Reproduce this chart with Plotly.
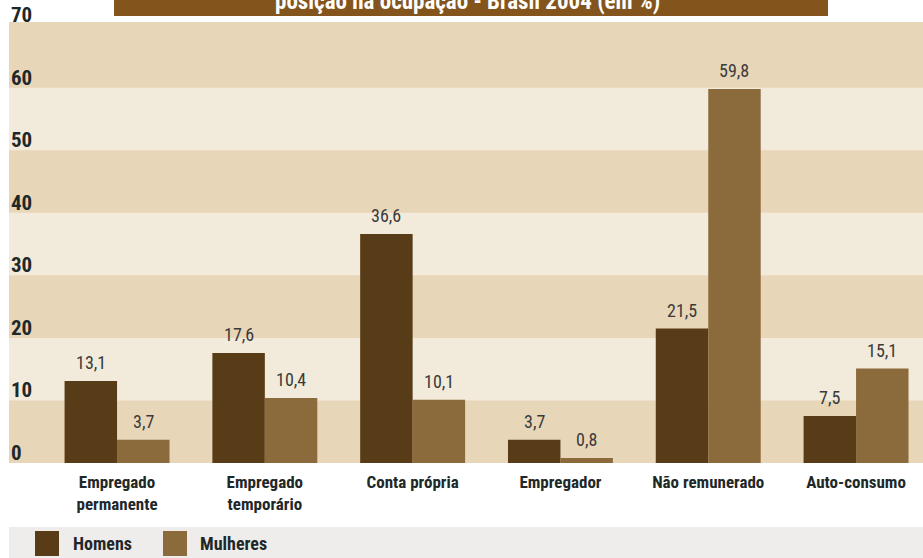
import plotly.graph_objects as go

# Occupied population by sex and position in occupation - Brasil 2004 (%)
categorias = ["Empregado<br>permanente", "Empregado<br>temporário", "Conta própria",
              "Empregador", "Não remunerado", "Auto-consumo"]
homens = [13.1, 17.6, 36.6, 3.7, 21.5, 7.5]
mulheres = [3.7, 10.4, 10.1, 0.8, 59.8, 15.1]
y_ticks = [0, 10, 20, 30, 40, 50, 60, 70]
titulo = "posição na ocupação - Brasil 2004 (em %)"

COR_HOMENS = "#573c17"
COR_MULHERES = "#8b6a3c"
BANDA_ESCURA = "#e8d6b9"
BANDA_CLARA = "#f2eadb"
TEXTO = "#1f2828"
FONTE = ("Roboto Condensed, Noto Sans ExtraCondensed, Noto Sans Condensed, "
         "Liberation Sans Narrow, DejaVu Sans Condensed, sans-serif")

W, H = 923, 558
ML, MR, MT, MB = 9, 0, 22, 95
PW, PH = W - ML - MR, H - MT - MB

def px_x(p):
    return (p - ML) / PW

def px_y(p):
    return (H - MB - p) / PH

BAR_GAP = 0.29
bar_w = (1 - BAR_GAP) / 2
xs = list(range(len(categorias)))

fig = go.Figure()
fig.add_trace(go.Bar(x=xs, y=homens, name="Homens", marker_color=COR_HOMENS,
                     marker_line_width=0))
fig.add_trace(go.Bar(x=xs, y=mulheres, name="Mulheres", marker_color=COR_MULHERES,
                     marker_line_width=0))

shapes = []
# alternating horizontal bands
for lo in range(10, 70, 20):
    shapes.append(dict(type="rect", xref="paper", yref="y", x0=0, x1=1, y0=lo, y1=lo + 10,
                       fillcolor=BANDA_CLARA, line_width=0, layer="below"))

# title bar
shapes.append(dict(type="rect", xref="paper", yref="paper",
                   x0=px_x(114), x1=px_x(828), y0=px_y(16), y1=px_y(-20),
                   fillcolor="#83551d", line_width=0))

# legend strip
shapes.append(dict(type="rect", xref="paper", yref="paper",
                   x0=0, x1=1, y0=px_y(558), y1=px_y(527),
                   fillcolor="#eeedeb", line_width=0))
for x0, cor in [(35, COR_HOMENS), (163, COR_MULHERES)]:
    shapes.append(dict(type="rect", xref="paper", yref="paper",
                       x0=px_x(x0), x1=px_x(x0 + 24), y0=px_y(556), y1=px_y(531),
                       fillcolor=cor, line_width=0))

annotations = []
# y-axis labels sitting on the band boundaries
for v in y_ticks:
    annotations.append(dict(xref="paper", yref="y", x=0, y=v, xanchor="left", yanchor="bottom",
                            text=str(v), showarrow=False, yshift=-4,
                            font=dict(family=FONTE, size=21, color=TEXTO, weight="bold")))

# value labels above bars
def fmt(v):
    return f"{v:.1f}".replace(".", ",")

for serie, off in [(homens, -bar_w / 2), (mulheres, bar_w / 2)]:
    for i, v in enumerate(serie):
        annotations.append(dict(x=i + off, y=v, xref="x", yref="y", text=fmt(v),
                                showarrow=False, yanchor="bottom", yshift=6,
                                font=dict(family=FONTE, size=18, color="#3a3a3a")))

# legend texts
for xl, nome in [(71, "Homens"), (198, "Mulheres")]:
    annotations.append(dict(xref="paper", yref="paper", x=px_x(xl), y=px_y(543.5),
                            xanchor="left", yanchor="middle", text=nome, showarrow=False,
                            font=dict(family=FONTE, size=18, color=TEXTO, weight="bold")))

# title text (upper part runs off the top edge)
annotations.append(dict(xref="paper", yref="paper", x=px_x(467), y=px_y(17),
                        xanchor="center", yanchor="bottom", text=titulo, showarrow=False,
                        font=dict(family=FONTE, size=23, color="white", weight="bold")))

fig.update_layout(
    width=W, height=H,
    margin=dict(l=ML, r=MR, t=MT, b=MB, pad=0),
    paper_bgcolor="white",
    plot_bgcolor=BANDA_ESCURA,
    barmode="group", bargap=BAR_GAP, bargroupgap=0,
    showlegend=False,
    shapes=shapes,
    annotations=annotations,
    xaxis=dict(range=[-0.731, 5.453], tickvals=xs, ticktext=categorias,
               showgrid=False, zeroline=False, showline=False, ticks="",
               ticklabelstandoff=7,
               tickfont=dict(family=FONTE, size=17, color=TEXTO, weight="bold"),
               fixedrange=True),
    yaxis=dict(range=[0, 70.5], showticklabels=False, showgrid=False, zeroline=False,
               showline=False, fixedrange=True),
)

fig.write_html("out.html")
